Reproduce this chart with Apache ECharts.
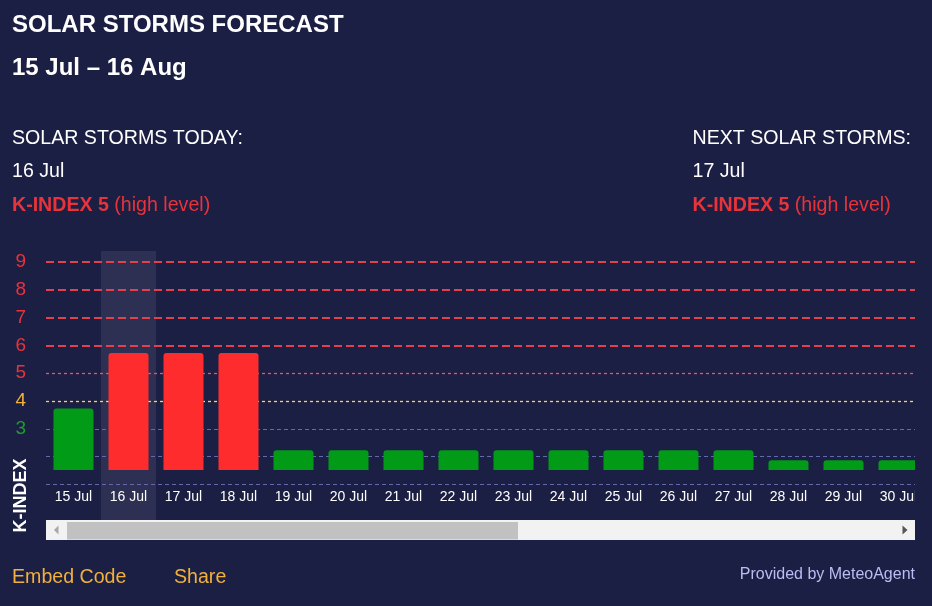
<!DOCTYPE html>
<html>
<head>
<meta charset="utf-8">
<script src="https://cdn.jsdelivr.net/npm/echarts@6/dist/echarts.min.js"></script>
<style>
  html, body { margin: 0; padding: 0; background: #1c1f44; }
  #chart { width: 932px; height: 606px; }
</style>
</head>
<body>
<div id="chart"></div>
<script>
// ---- data ----
const days = ['15 Jul','16 Jul','17 Jul','18 Jul','19 Jul','20 Jul','21 Jul','22 Jul',
              '23 Jul','24 Jul','25 Jul','26 Jul','27 Jul','28 Jul','29 Jul','30 Jul'];
// top of each bar, read on the K-INDEX scale
const kTop = [3.73, 5.73, 5.73, 5.73, 2.23, 2.23, 2.23, 2.23,
              2.23, 2.23, 2.23, 2.23, 2.23, 1.87, 1.87, 1.87];
// bars start from this level of the K-INDEX scale
const kBase = 1.52;
const levelLines = [1, 2, 3, 4, 5, 6, 7, 8, 9];
const tickLabels = [3, 4, 5, 6, 7, 8, 9];
const todayIndex = 1;

// ---- styles ----
const BG = '#1c1f44';
const RED = '#e8333a';
const BAR_RED = '#ff2c2e';
const BAR_GREEN = '#019b17';
const FONT = '"Liberation Sans", Arial, sans-serif';

const labelColor = v => v >= 5 ? RED : (v === 4 ? '#f2b23a' : '#1e9c2c');
function lineStyleFor(v) {
  if (v >= 6) return { color: '#e63f4a', width: 2, type: [8, 4], opacity: 1 };
  if (v === 5) return { color: '#ff4a64', width: 1.3, type: [3, 3], opacity: 1 };
  if (v === 4) return { color: '#ffd54f', width: 1.3, type: [3, 3], opacity: 1 };
  return { color: '#6468ad', width: 1.1, type: [4, 3], opacity: 1 };
}

const areaColors = days.map((d, i) => i === todayIndex ? 'rgba(255,255,255,0.08)' : 'rgba(0,0,0,0)');

const chart = echarts.init(document.getElementById('chart'), null, { renderer: 'canvas' });

const txt = (x, y, text, size, color, weight, align, extra) => Object.assign({
  type: 'text', x: x, y: y, z: 100,
  style: { text: text, fill: color, font: (weight || 'normal') + ' ' + size + 'px ' + FONT,
           textAlign: align || 'left', textVerticalAlign: 'middle' }
}, extra || {});

const richLine = (x, y) => ({
  type: 'text', x: x, y: y, z: 100,
  style: {
    text: '{b|K-INDEX 5} (high level)', fill: RED,
    fontSize: 19.6, fontFamily: FONT, textVerticalAlign: 'middle', textAlign: 'left',
    rich: { b: { fontWeight: 'bold', fontSize: 19.6, fontFamily: FONT, fill: RED } }
  }
});

chart.setOption({
  backgroundColor: BG,
  animation: false,
  grid: { left: 46, right: 6, top: 251, bottom: 66 },
  xAxis: {
    type: 'category',
    data: days,
    offset: -55.7,
    axisLine: { show: false },
    axisTick: { show: false },
    axisLabel: { color: '#ffffff', fontSize: 14, fontFamily: FONT, margin: 6, interval: 0 },
    splitArea: { show: true, interval: 0, areaStyle: { color: areaColors } }
  },
  yAxis: {
    type: 'value',
    min: -1,
    max: 9.395,
    interval: 1,
    axisLine: { show: false },
    axisTick: { show: false },
    splitLine: { show: false },
    axisLabel: {
      margin: 20,
      fontSize: 19,
      fontFamily: FONT,
      formatter: v => tickLabels.indexOf(v) >= 0 ? '{l' + v + '|' + v + '}' : '',
      rich: Object.fromEntries(tickLabels.map(v => ['l' + v, { color: labelColor(v), fontSize: 19, fontFamily: FONT }]))
    }
  },
  series: [
    {
      name: 'base', type: 'bar', stack: 'k', barWidth: 40, silent: true,
      itemStyle: { color: 'rgba(0,0,0,0)' },
      data: days.map(() => kBase),
      z: 3
    },
    {
      name: 'K-index', type: 'bar', stack: 'k', barWidth: 40, z: 3,
      itemStyle: {
        borderRadius: [3, 3, 0, 0],
        color: p => kTop[p.dataIndex] >= 5 ? BAR_RED : BAR_GREEN
      },
      data: kTop.map(v => +(v - kBase).toFixed(3))
    },
    {
      name: 'levels', type: 'line', data: [], z: 1,
      markLine: {
        z: 1, silent: true, symbol: 'none', animation: false,
        label: { show: false },
        data: levelLines.map(v => ({ yAxis: v, lineStyle: lineStyleFor(v) }))
      }
    }
  ],
  graphic: [
    txt(12, 25, 'SOLAR STORMS FORECAST', 24, '#ffffff', 'bold'),
    txt(12, 68.5, '15 Jul – 16 Aug', 24, '#ffffff', 'bold'),
    txt(12, 138.5, 'SOLAR STORMS TODAY:', 19.6, '#ffffff'),
    txt(12, 171.5, '16 Jul', 19.6, '#ffffff'),
    richLine(12, 205.5),
    txt(692.5, 138.5, 'NEXT SOLAR STORMS:', 19.6, '#ffffff'),
    txt(692.5, 171.5, '17 Jul', 19.6, '#ffffff'),
    richLine(692.5, 205.5),
    txt(21, 495.5, 'K-INDEX', 18, '#ffffff', 'bold', 'center', { rotation: Math.PI / 2 }),
    // clip of the plot at the right edge
    { type: 'rect', z: 90, shape: { x: 915, y: 240, width: 17, height: 310 }, style: { fill: BG } },
    // scrollbar
    { type: 'rect', z: 95, shape: { x: 46, y: 520, width: 869, height: 20 }, style: { fill: '#f2f2f2' } },
    { type: 'rect', z: 96, shape: { x: 67, y: 522, width: 451, height: 17.5 }, style: { fill: '#c1c1c1' } },
    { type: 'polygon', z: 96, shape: { points: [[58.5, 525.5], [58.5, 534.5], [54, 530]] }, style: { fill: '#a8a8a8' } },
    { type: 'polygon', z: 96, shape: { points: [[902.5, 525.5], [902.5, 534.5], [907.5, 530]] }, style: { fill: '#555555' } },
    // footer
    txt(12, 577.5, 'Embed Code', 19.6, '#f2b03c'),
    txt(174, 577.5, 'Share', 19.6, '#f2b03c'),
    txt(915, 574.5, 'Provided by MeteoAgent', 16, '#b9bdf2', 'normal', 'right')
  ]
});
</script>
</body>
</html>
